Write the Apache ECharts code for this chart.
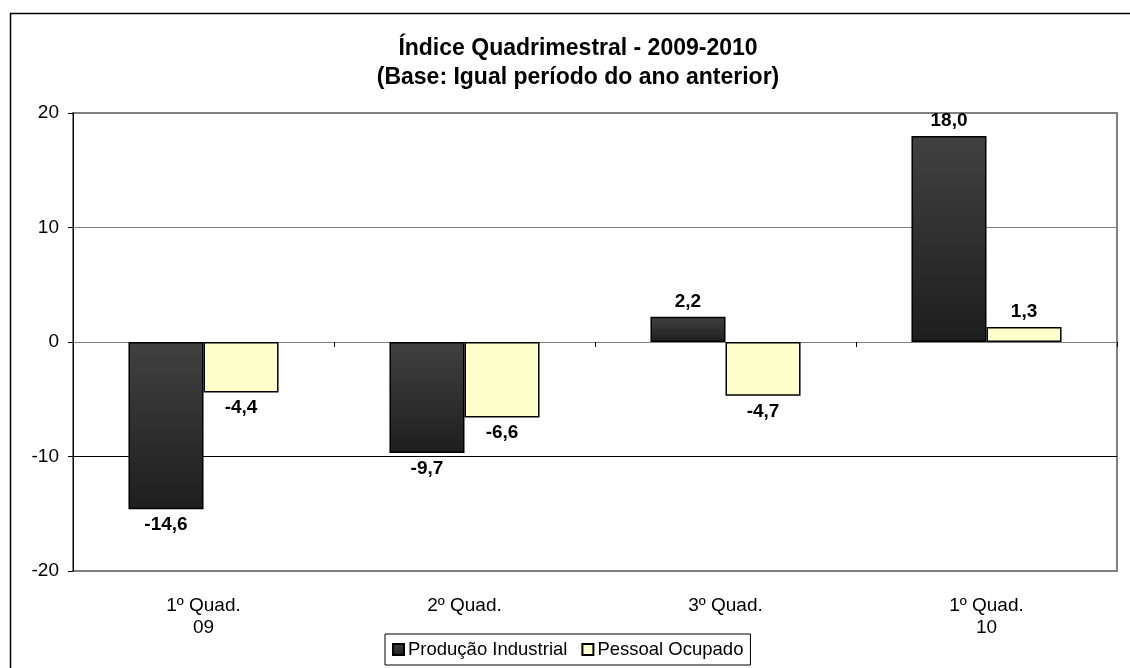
<!DOCTYPE html>
<html>
<head>
<meta charset="utf-8">
<script src="https://cdn.jsdelivr.net/npm/echarts@6/dist/echarts.min.js"></script>
<style>
html,body{margin:0;padding:0;background:#fff;}
#chart{width:1130px;height:668px;}
</style>
</head>
<body>
<div id="chart"></div>
<script>
const categories = ['1º Quad.\n09', '2º Quad.', '3º Quad.', '1º Quad.\n10'];
const producaoIndustrial = [-14.6, -9.7, 2.2, 18.0];
const pessoalOcupado = [-4.4, -6.6, -4.7, 1.3];
const seriesNames = ['Produção Industrial', 'Pessoal Ocupado'];
const yTicks = { min: -20, max: 20, interval: 10 };

const FONT = '"Liberation Sans", Arial, sans-serif';
const fmt = v => v.toFixed(1).replace('.', ',');

function toData(arr) {
  return arr.map(v => ({
    value: v,
    label: { position: v < 0 ? 'bottom' : 'top' }
  }));
}

const labelStyle = {
  show: true,
  fontFamily: FONT,
  fontSize: 19,
  fontWeight: 'bold',
  color: '#000',
  distance: 6,
  formatter: p => fmt(p.value)
};

const chart = echarts.init(document.getElementById('chart'), null, { renderer: 'canvas' });
chart.setOption({
  animation: false,
  backgroundColor: '#fff',
  textStyle: { fontFamily: FONT },
  title: {
    text: 'Índice Quadrimestral - 2009-2010\n(Base: Igual período do ano anterior)',
    left: 573,
    textAlign: 'center',
    top: 29,
    textStyle: { fontFamily: FONT, fontSize: 23, fontWeight: 'bold', color: '#000', lineHeight: 29 }
  },
  graphic: [{
    type: 'rect',
    shape: { x: 10.5, y: 13.5, width: 1200, height: 800 },
    style: { fill: 'none', stroke: '#000', lineWidth: 1.5 },
    silent: true,
    z: -1
  }],
  legend: {
    left: 385,
    top: 634,
    data: seriesNames,
    icon: 'rect',
    borderColor: '#000',
    borderWidth: 1,
    padding: [6, 7, 6, 7],
    itemWidth: 11,
    itemHeight: 11,
    itemGap: 14,
    textStyle: { fontFamily: FONT, fontSize: 18.5, color: '#000', padding: [0, 0, 0, -1] }
  },
  grid: {
    left: 73, right: 13, top: 113, bottom: 97,
    show: true, borderColor: '#808080', borderWidth: 2, backgroundColor: '#fff'
  },
  xAxis: [{
    type: 'category',
    data: categories,
    position: 'bottom',
    axisLine: { show: false, onZero: false },
    axisTick: { show: false },
    axisLabel: { fontFamily: FONT, fontSize: 19, color: '#000', margin: 24, lineHeight: 22 }
  }, {
    type: 'category',
    data: categories,
    position: 'bottom',
    axisLine: { show: true, onZero: true, lineStyle: { color: '#808080', width: 1 } },
    axisTick: { show: true, length: 5, lineStyle: { color: '#000' } },
    axisLabel: { show: false }
  }],
  yAxis: {
    type: 'value',
    min: yTicks.min, max: yTicks.max, interval: yTicks.interval,
    axisLine: { show: true, lineStyle: { color: '#000', width: 1 } },
    axisTick: { show: true, length: 5, lineStyle: { color: '#000' } },
    axisLabel: { fontFamily: FONT, fontSize: 19, color: '#000', margin: 14 },
    splitLine: { show: true, lineStyle: { color: ['#808080', '#000000', '#808080', '#808080', '#808080'], width: 1 } }
  },
  series: [{
    name: seriesNames[0],
    type: 'bar',
    xAxisIndex: 0,
    data: toData(producaoIndustrial),
    barCategoryGap: '42.5%',
    barGap: '0%',
    itemStyle: {
      color: new echarts.graphic.LinearGradient(0, 0, 0, 1, [
        { offset: 0, color: '#414141' },
        { offset: 1, color: '#1e1e1e' }
      ]),
      borderColor: '#000',
      borderWidth: 1.5
    },
    label: labelStyle
  }, {
    name: seriesNames[1],
    type: 'bar',
    xAxisIndex: 0,
    data: toData(pessoalOcupado),
    barCategoryGap: '42.5%',
    barGap: '0%',
    itemStyle: { color: '#FFFFCC', borderColor: '#000', borderWidth: 1.5 },
    label: labelStyle
  }]
});
</script>
</body>
</html>
